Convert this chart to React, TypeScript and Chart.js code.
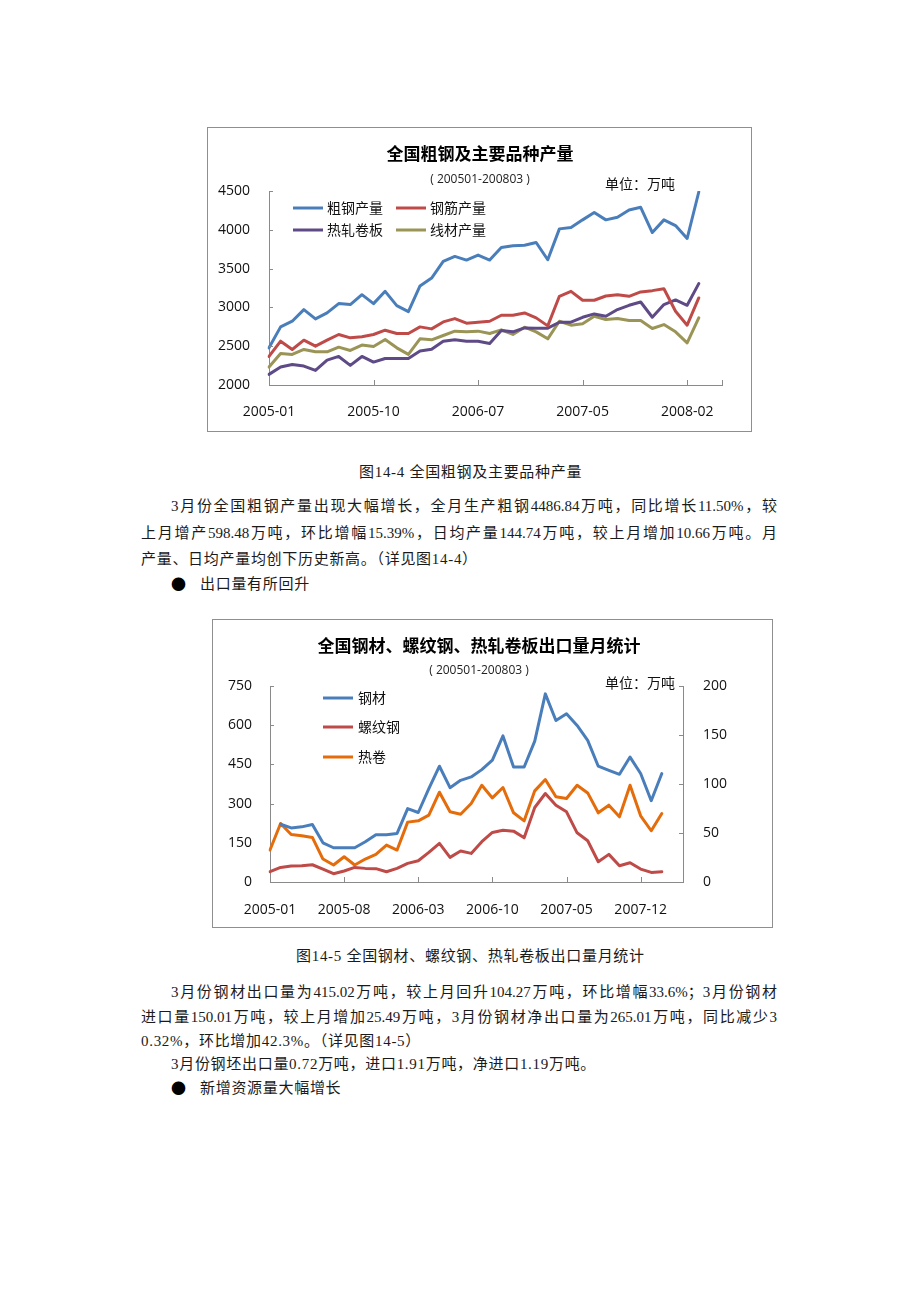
import React, { useEffect, useRef } from 'react';
import { Chart, registerables } from 'chart.js';

Chart.register(...registerables);

const CJK = '"Noto Sans CJK SC", "Noto Sans", sans-serif';
const NUM = '"Open Sans", "Noto Sans CJK SC", sans-serif';
const BODY = '"Liberation Serif", "Noto Sans CJK SC", serif';
const AXIS = '#8a8a8a';

// ---------- Figure 14-4: production (万吨) ----------
const prodMonths = [
  '2005-01', '2005-02', '2005-03', '2005-04', '2005-05', '2005-06', '2005-07', '2005-08', '2005-09', '2005-10', '2005-11', '2005-12',
  '2006-01', '2006-02', '2006-03', '2006-04', '2006-05', '2006-06', '2006-07', '2006-08', '2006-09', '2006-10', '2006-11', '2006-12',
  '2007-02', '2007-03', '2007-04', '2007-05', '2007-06', '2007-07', '2007-08', '2007-09', '2007-10', '2007-11', '2007-12',
  '2008-01', '2008-02', '2008-03',
];
const crudeSteel = [
  2479, 2749, 2822, 2972, 2852, 2929, 3049, 3036, 3164, 3049, 3207, 3023,
  2946, 3276, 3378, 3592, 3657, 3610, 3674, 3610, 3772, 3794, 3802, 3836,
  3614, 4012, 4029, 4128, 4222, 4128, 4162, 4256, 4290, 3965, 4128,
  4055, 3888, 4487,
];
const rebarProd = [
  2368, 2565, 2458, 2578, 2501, 2578, 2651, 2608, 2621, 2651, 2706, 2664,
  2664, 2749, 2723, 2813, 2856, 2796, 2809, 2822, 2899, 2899, 2929, 2865,
  2762, 3143, 3207, 3092, 3092, 3147, 3164, 3143, 3199, 3216, 3241,
  2950, 2771, 3122,
];
const hotRolledProd = [
  2137, 2231, 2265, 2244, 2188, 2321, 2368, 2253, 2368, 2295, 2342, 2342,
  2342, 2437, 2462, 2565, 2582, 2565, 2565, 2535, 2702, 2685, 2736, 2732,
  2732, 2809, 2809, 2873, 2916, 2886, 2972, 3027, 3070, 2873, 3036,
  3096, 3027, 3306,
];
const wireRodProd = [
  2231, 2407, 2394, 2458, 2428, 2428, 2488, 2445, 2514, 2497, 2586, 2479,
  2394, 2595, 2582, 2638, 2694, 2685, 2694, 2664, 2711, 2651, 2745, 2685,
  2595, 2822, 2771, 2788, 2886, 2843, 2856, 2831, 2831, 2728, 2779,
  2685, 2544, 2865,
];
const prodYTicks = [2000, 2500, 3000, 3500, 4000, 4500];

// ---------- Figure 14-5: exports (万吨) ----------
const exportMonths = [
  '2005-01', '2005-02', '2005-03', '2005-04', '2005-05', '2005-06', '2005-07', '2005-08', '2005-09', '2005-10', '2005-11', '2005-12',
  '2006-01', '2006-02', '2006-03', '2006-04', '2006-05', '2006-06', '2006-07', '2006-08', '2006-09', '2006-10', '2006-11', '2006-12',
  '2007-01', '2007-02', '2007-03', '2007-04', '2007-05', '2007-06', '2007-07', '2007-08', '2007-09', '2007-10', '2007-11', '2007-12',
  '2008-02', '2008-03',
];
const steelExports = [
  null, 221, 207, 211, 220, 150, 131, 131, 131, 154, 181, 181,
  186, 281, 266, 357, 443, 361, 389, 402, 430, 466, 559, 440,
  440, 539, 720, 618, 644, 599, 542, 443, 427, 412, 478, 415,
  311, 415,
];
const rebarExports = [
  10.5, 14.9, 16.3, 16.6, 17.6, 13.2, 8.5, 11.2, 14.9, 13.9, 13.6, 10.5,
  13.9, 19.0, 21.7, 30.2, 39.4, 25.1, 31.6, 29.2, 41.1, 50.6, 52.9, 51.9,
  45.1, 76.0, 90.3, 78.4, 71.6, 50.2, 42.1, 20.7, 28.2, 16.6, 19.7, 13.2,
  9.8, 10.5,
];
const hrcExports = [
  32.6, 59.7, 48.5, 47.2, 45.5, 23.4, 17.3, 25.8, 17.3, 23.4, 28.2, 37.7,
  32.6, 61.1, 62.4, 68.2, 91.6, 71.6, 69.2, 80.1, 98.7, 85.8, 96.4, 70.6,
  62.4, 93.0, 104.5, 86.9, 85.2, 98.7, 90.9, 70.6, 78.4, 66.5, 98.7, 67.5,
  52.3, 69.9,
];
const exportLeftTicks = [0, 150, 300, 450, 600, 750];
const exportRightTicks = [0, 50, 100, 150, 200];

// ---------- plugin: titles, legend, inside tick marks ----------
const decorPlugin = {
  id: 'decor',
  afterDraw(chart: any, _args: any, o: any) {
    const ctx = chart.ctx;
    const area = chart.chartArea;
    ctx.save();
    ctx.fillStyle = '#000';
    ctx.textBaseline = 'middle';
    ctx.textAlign = 'center';
    ctx.font = `bold 17px ${CJK}`;
    ctx.fillText(o.title, o.titleX, o.titleY);
    ctx.font = `12px ${NUM}`;
    ctx.fillStyle = '#222';
    ctx.fillText(o.subtitle, o.titleX, o.subY);
    ctx.textAlign = 'left';
    ctx.font = `14px ${CJK}`;
    ctx.fillStyle = '#111';
    ctx.fillText('单位：万吨', o.unitX, o.unitY);

    // legend
    ctx.font = `14px ${CJK}`;
    o.legend.forEach((it: any) => {
      const ds = chart.data.datasets[it.index];
      ctx.strokeStyle = ds.borderColor;
      ctx.lineWidth = 3;
      ctx.beginPath();
      ctx.moveTo(it.x, it.y);
      ctx.lineTo(it.x + o.lineLen, it.y);
      ctx.stroke();
      ctx.fillStyle = '#111';
      ctx.fillText(ds.label, it.x + o.lineLen + o.textGap, it.y);
    });

    // inside tick marks
    ctx.strokeStyle = AXIS;
    ctx.lineWidth = 1;
    const xs = chart.scales.x;
    const n = xs.ticks.length;
    xs.ticks.forEach((_t: any, i: number) => {
      if ((i % o.step === 0 && i < o.labelled) || i === n - 1) {
        const px = Math.round(xs.getPixelForTick(i)) + 0.5;
        ctx.beginPath();
        ctx.moveTo(px, area.bottom);
        ctx.lineTo(px, area.bottom - 5);
        ctx.stroke();
      }
    });
    ['y', 'y1'].forEach((id) => {
      const s = chart.scales[id];
      if (!s) return;
      s.ticks.forEach((_t: any, i: number) => {
        const py = Math.round(s.getPixelForTick(i)) + 0.5;
        ctx.beginPath();
        if (s.position === 'left') {
          ctx.moveTo(area.left, py);
          ctx.lineTo(area.left + 4, py);
        } else {
          ctx.moveTo(area.right, py);
          ctx.lineTo(area.right - 4, py);
        }
        ctx.stroke();
      });
    });
    ctx.restore();
  },
};

const tickFont = { family: NUM, size: 14 };

function xScale(labels: string[], step: number, height: number, padding: number) {
  return {
    type: 'category',
    offset: false,
    grid: { display: true, drawOnChartArea: false, drawTicks: false },
    border: { display: true, color: AXIS, width: 1 },
    ticks: {
      autoSkip: false,
      maxRotation: 0,
      padding,
      color: '#111',
      font: tickFont,
      callback: (_v: any, i: number) => (i % step === 0 && i < labels.length ? labels[i] : ''),
    },
    afterFit: (s: any) => {
      s.height = height;
    },
  };
}

function yScale(position: string, min: number, max: number, tickValues: number[], width: number, padding: number) {
  return {
    position,
    min,
    max,
    grid: { display: true, drawOnChartArea: false, drawTicks: false },
    border: { display: true, color: AXIS, width: 1 },
    ticks: {
      padding,
      color: '#111',
      font: tickFont,
      callback: (v: any) => String(v),
    },
    afterBuildTicks: (s: any) => {
      s.ticks = tickValues.map((v) => ({ value: v }));
    },
    afterFit: (s: any) => {
      s.width = width;
    },
  };
}

const line = (label: string, data: (number | null)[], color: string, yAxisID = 'y') => ({
  label,
  data,
  borderColor: color,
  backgroundColor: color,
  borderWidth: 3,
  pointRadius: 0,
  tension: 0,
  borderJoinStyle: 'round',
  borderCapStyle: 'round',
  spanGaps: false,
  yAxisID,
});

function productionConfig(): any {
  const labels = [...prodMonths, '', ''];
  return {
    type: 'line',
    data: {
      labels,
      datasets: [
        line('粗钢产量', crudeSteel, '#4a7ebb'),
        line('钢筋产量', rebarProd, '#be4b48'),
        line('热轧卷板', hotRolledProd, '#5e4a86'),
        line('线材产量', wireRodProd, '#9a9456'),
      ],
    },
    plugins: [decorPlugin],
    options: {
      animation: false,
      responsive: false,
      layout: { padding: { left: 0, top: 63, right: 29, bottom: 0 } },
      plugins: {
        legend: { display: false },
        tooltip: { enabled: false },
        decor: {
          title: '全国粗钢及主要品种产量',
          subtitle: '( 200501-200803 )',
          titleX: 272,
          titleY: 26,
          subY: 52,
          unitX: 397,
          unitY: 56,
          lineLen: 30,
          textGap: 4,
          step: 9,
          labelled: prodMonths.length,
          legend: [
            { index: 0, x: 85, y: 80 },
            { index: 1, x: 188, y: 80 },
            { index: 2, x: 85, y: 102 },
            { index: 3, x: 188, y: 102 },
          ],
        },
      },
      scales: {
        x: xScale(prodMonths, 9, 46, 19),
        y: yScale('left', 2000, 4500, prodYTicks, 61, 19),
      },
    },
  };
}

function exportConfig(): any {
  const labels = [...exportMonths, '', ''];
  return {
    type: 'line',
    data: {
      labels,
      datasets: [
        line('钢材', steelExports, '#4a7ebb', 'y'),
        line('螺纹钢', rebarExports, '#be4b48', 'y1'),
        line('热卷', hrcExports, '#e46c0a', 'y1'),
      ],
    },
    plugins: [decorPlugin],
    options: {
      animation: false,
      responsive: false,
      layout: { padding: { left: 0, top: 66, right: 0, bottom: 0 } },
      plugins: {
        legend: { display: false },
        tooltip: { enabled: false },
        decor: {
          title: '全国钢材、螺纹钢、热轧卷板出口量月统计',
          subtitle: '( 200501-200803 )',
          titleX: 266,
          titleY: 26,
          subY: 51,
          unitX: 392,
          unitY: 63,
          lineLen: 30,
          textGap: 5,
          step: 7,
          labelled: exportMonths.length,
          legend: [
            { index: 0, x: 110, y: 78 },
            { index: 1, x: 110, y: 107 },
            { index: 2, x: 110, y: 137 },
          ],
        },
      },
      scales: {
        x: xScale(exportMonths, 7, 45, 20),
        y: yScale('left', 0, 750, exportLeftTicks, 57, 18),
        y1: yScale('right', 0, 200, exportRightTicks, 89, 20),
      },
    },
  };
}

function ChartBox({ left, top, width, height, config }: any) {
  const ref = useRef<HTMLCanvasElement>(null);
  useEffect(() => {
    const chart = new Chart(ref.current as HTMLCanvasElement, config());
    return () => chart.destroy();
  }, []);
  const cw = width - 2;
  const ch = height - 2;
  return (
    <div
      style={{
        position: 'absolute',
        left,
        top,
        width: cw,
        height: ch,
        border: '1px solid #8f8f8f',
        background: '#fff',
      }}
    >
      <canvas ref={ref} width={cw} height={ch} style={{ display: 'block', width: cw, height: ch }} />
    </div>
  );
}

function TextLine({ x, y, w, justify, children }: any) {
  return (
    <div
      style={{
        position: 'absolute',
        left: x,
        top: y - 11,
        width: w,
        height: 22,
        lineHeight: '22px',
        fontSize: 15,
        fontFamily: BODY,
        color: '#1a1a1a',
        letterSpacing: justify ? 0 : 0.7,
        textAlign: justify ? 'justify' : 'left',
        textAlignLast: justify ? 'justify' : 'auto',
        whiteSpace: justify ? 'normal' : 'nowrap',
      }}
    >
      {children}
    </div>
  );
}

function Bullet({ y, text }: any) {
  return (
    <>
      <div
        style={{
          position: 'absolute',
          left: 171,
          top: y - 11,
          height: 22,
          lineHeight: '22px',
          fontSize: 15,
          fontFamily: CJK,
          color: '#000',
        }}
      >
        ●
      </div>
      <TextLine x={200} y={y}>
        {text}
      </TextLine>
    </>
  );
}

export default function App() {
  return (
    <div style={{ position: 'absolute', left: 0, top: 0, width: 920, height: 1302, background: '#fff' }}>
      <ChartBox left={207} top={127} width={545} height={305} config={productionConfig} />
      <TextLine x={359} y={472}>图14-4 全国粗钢及主要品种产量</TextLine>
      <TextLine x={171} y={506} w={606} justify>
        3月份全国粗钢产量出现大幅增长，全月生产粗钢4486.84万吨，同比增长11.50%，较
      </TextLine>
      <TextLine x={141} y={533} w={636} justify>
        上月增产598.48万吨，环比增幅15.39%，日均产量144.74万吨，较上月增加10.66万吨。月
      </TextLine>
      <TextLine x={141} y={559}>产量、日均产量均创下历史新高。（详见图14-4）</TextLine>
      <Bullet y={584} text="出口量有所回升" />

      <ChartBox left={212} top={619} width={561} height={309} config={exportConfig} />
      <TextLine x={296} y={956}>图14-5 全国钢材、螺纹钢、热轧卷板出口量月统计</TextLine>
      <TextLine x={171} y={992} w={606} justify>
        3月份钢材出口量为415.02万吨，较上月回升104.27万吨，环比增幅33.6%；3月份钢材
      </TextLine>
      <TextLine x={141} y={1017} w={636} justify>
        进口量150.01万吨，较上月增加25.49万吨，3月份钢材净出口量为265.01万吨，同比减少3
      </TextLine>
      <TextLine x={141} y={1041}>0.32%，环比增加42.3%。（详见图14-5）</TextLine>
      <TextLine x={171} y={1064}>3月份钢坯出口量0.72万吨，进口1.91万吨，净进口1.19万吨。</TextLine>
      <Bullet y={1088} text="新增资源量大幅增长" />
    </div>
  );
}
